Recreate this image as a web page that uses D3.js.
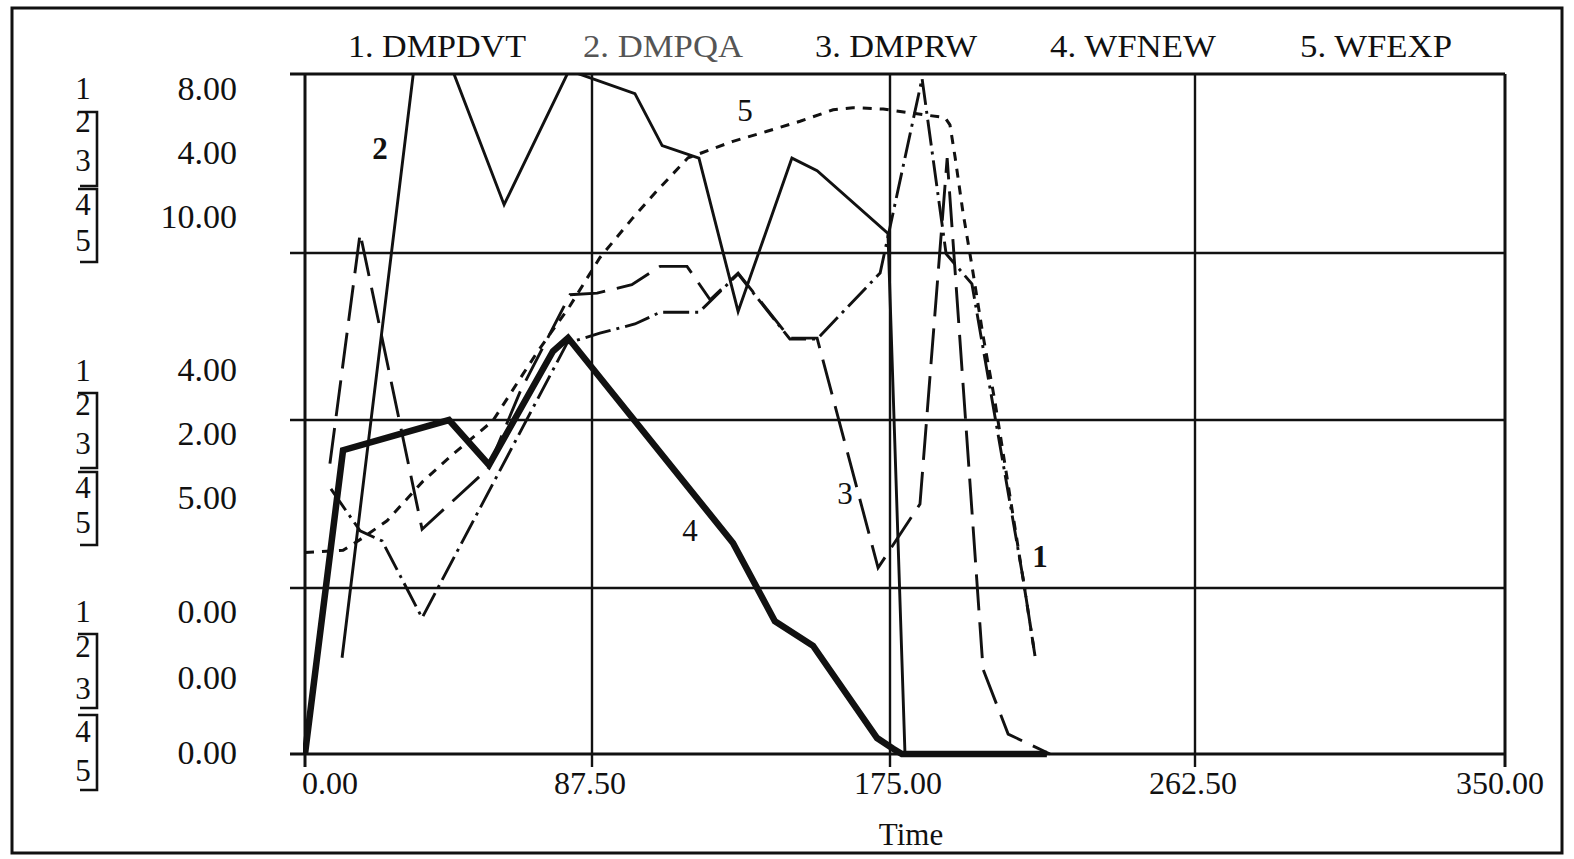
<!DOCTYPE html>
<html>
<head>
<meta charset="utf-8">
<script src="https://cdn.jsdelivr.net/npm/d3@7"></script>
<style>
  html, body { margin: 0; padding: 0; background: #fff; }
  svg { display: block; }
  text { font-family: "Liberation Serif", "DejaVu Serif", serif; fill: #111; }
</style>
</head>
<body>
<svg id="chart" width="1574" height="859"></svg>
<script>
// ---------------- data ----------------
const seriesNames = ["DMPDVT", "DMPQA", "DMPRW", "WFNEW", "WFEXP"];
const seriesMax   = [8, 4, 4, 10, 10];
const timeTicks   = [0, 87.5, 175, 262.5, 350];
const timeTickLabels = ["0.00", "87.50", "175.00", "262.50", "350.00"];

const s1Time = [7.9, 16.8, 23.5, 35.7, 79.9, 89.8, 100.1, 107.5, 118.9, 130.4, 145.6, 153.6, 172.1, 184.2, 191.1, 198.5, 213.2, 216.6];
const s1Vals = [3.18, 2.68, 2.56, 1.64, 4.92, 5.04, 5.15, 5.29, 5.29, 5.75, 4.97, 4.97, 5.76, 7.95, 5.99, 5.63, 2.11, 1.18];

const s2Time = [11.3, 36.0, 60.7, 80.5, 100.1, 108.1, 118.9, 130.4, 146.2, 153.6, 174.4, 179.3, 220];
const s2Vals = [0.58, 4.45, 3.27, 4.02, 3.89, 3.60, 3.53, 2.65, 3.53, 3.46, 3.11, 0, 0];

const s3Time = [7.6, 16.8, 35.7, 55.8, 65.6, 80.8, 89.0, 99.2, 107.5, 115.4, 122.2, 130.4, 145.6, 153.6, 171.5, 183.6, 191.4, 201.7, 208.9, 220.9];
const s3Vals = [1.74, 3.11, 1.35, 1.71, 2.17, 2.75, 2.76, 2.81, 2.92, 2.92, 2.72, 2.88, 2.49, 2.49, 1.12, 1.50, 3.53, 0.51, 0.12, 0];

const s4Time = [0, 11.6, 43.9, 56.1, 75.6, 80.2, 128.9, 141.2, 152.4, 171.2, 175.9, 178.4, 220];
const s4Vals = [0, 4.55, 5.0, 4.33, 6.03, 6.23, 3.17, 2.0, 1.63, 0.24, 0.08, 0, 0];

const s5Time = [0, 11.6, 17.4, 25, 36, 45.1, 57.3, 66.5, 71, 80.8, 89.8, 99.5, 106.6, 115.7, 119.8, 128.9, 138.9, 148.6, 158.3, 164.1, 173.0, 190.8, 192.2, 193.7, 195.9, 198.5, 201.7, 205.1, 213.2, 216.6];
const s5Vals = [3.03, 3.06, 3.24, 3.5, 4.09, 4.49, 4.99, 5.69, 6.03, 6.71, 7.43, 7.99, 8.37, 8.83, 8.9, 9.06, 9.2, 9.34, 9.5, 9.53, 9.51, 9.39, 9.29, 8.83, 8.08, 7.31, 6.26, 5.28, 2.63, 1.48];

// on-line number labels (time, value on that series' scale)
const markSeries = [2, 5, 3, 4, 1];
const markTime   = [22.9, 132.4, 161.8, 116.3, 218];
const markVals   = [3.58, 9.48, 1.56, 3.35, 2.37];

// ---------------- layout ----------------
const svg = d3.select("#chart");
const W = 1574, H = 859;
svg.append("rect").attr("width", W).attr("height", H).attr("fill", "#fff");

// scanned page frame
svg.append("rect").attr("x", 12).attr("y", 8).attr("width", 1550).attr("height", 845)
  .attr("fill", "none").attr("stroke", "#111").attr("stroke-width", 3);

const x = d3.scaleLinear().domain(timeTicks).range([305, 592, 890, 1195, 1505]);
const fracs = [0, 0.25, 0.5, 0.75, 1];
const yRange = [754, 588, 420, 253, 74];
const yScales = seriesMax.map(m => d3.scaleLinear().domain(fracs.map(f => f * m)).range(yRange));
const yUnit = d3.scaleLinear().domain(fracs).range(yRange);

const plotL = x(0), plotR = x(350), plotT = yUnit(1), plotB = yUnit(0);

// grid
const g = svg.append("g");
g.selectAll("line.h").data(fracs).join("line")
  .attr("x1", plotL - 15).attr("x2", plotR)
  .attr("y1", d => yUnit(d)).attr("y2", d => yUnit(d))
  .attr("stroke", "#111").attr("stroke-width", d => (d === 0 || d === 1) ? 3 : 2.4);
g.selectAll("line.v").data(timeTicks).join("line")
  .attr("x1", d => x(d)).attr("x2", d => x(d))
  .attr("y1", plotT).attr("y2", plotB + 13)
  .attr("stroke", "#111").attr("stroke-width", d => (d === 0 || d === 350) ? 3 : 2.4);

// x tick labels
svg.selectAll("text.xt").data(timeTicks).join("text")
  .attr("class", "xt")
  .attr("x", (d, i) => i === 0 ? x(d) - 3 : (i === 4 ? x(d) - 5 : x(d) + (i === 2 ? 8 : -2)))
  .attr("y", 794)
  .attr("text-anchor", (d, i) => i === 0 ? "start" : "middle")
  .attr("font-size", 32)
  .text((d, i) => timeTickLabels[i]);

svg.append("text").attr("x", 911).attr("y", 845).attr("text-anchor", "middle")
  .attr("font-size", 31).text("Time");

// legend
const legendX = [348, 583, 815, 1050, 1300];
const legendW = [178, 160, 162, 166, 152];
svg.selectAll("text.leg").data(seriesNames).join("text")
  .attr("class", "leg")
  .attr("x", (d, i) => legendX[i]).attr("y", 57)
  .attr("font-size", 32)
  .attr("textLength", (d, i) => legendW[i]).attr("lengthAdjust", "spacingAndGlyphs")
  .style("fill", (d, i) => i === 1 ? "#555" : "#111")
  .text((d, i) => (i + 1) + ". " + d);

// left value labels: three groups (top = max, middle = half, bottom = 0)
const groupFrac = [1, 0.5, 0];
const groupNumY = [[88, 121, 160, 204, 240], [370, 404, 443, 487, 522], [611, 646, 688, 731, 770]];
const groupValY = [[88, 152, 216], [369, 433, 497], [611, 677, 752]];
const groupBrk = [[[112, 186], [189, 262]], [[393, 468], [472, 545]], [[634, 708], [715, 790]]];
const valMax = [seriesMax[0], seriesMax[1], seriesMax[3]];
const fmt = d3.format(".2f");

groupFrac.forEach((gf, gi) => {
  const gg = svg.append("g");
  gg.selectAll("text.num").data([1, 2, 3, 4, 5]).join("text")
    .attr("x", 83).attr("y", (d, i) => groupNumY[gi][i] + 11)
    .attr("text-anchor", "middle").attr("font-size", 31).text(d => d);
  gg.selectAll("text.val").data(valMax).join("text")
    .attr("x", 237).attr("y", (d, i) => groupValY[gi][i] + 12)
    .attr("text-anchor", "end").attr("font-size", 34)
    .text(d => fmt(d * gf));
  gg.selectAll("path.brk").data(groupBrk[gi]).join("path")
    .attr("d", d => `M78,${d[0]}H97V${d[1]}H80`)
    .attr("fill", "none").attr("stroke", "#111").attr("stroke-width", 2.6);
});

// series lines
svg.append("clipPath").attr("id", "plotClip").append("rect")
  .attr("x", plotL - 2).attr("y", plotT - 1).attr("width", plotR - plotL + 4).attr("height", plotB - plotT + 6);

const seriesData = [
  s1Time.map((t, i) => ({ t, v: s1Vals[i] })),
  s2Time.map((t, i) => ({ t, v: s2Vals[i] })),
  s3Time.map((t, i) => ({ t, v: s3Vals[i] })),
  s4Time.map((t, i) => ({ t, v: s4Vals[i] })),
  s5Time.map((t, i) => ({ t, v: s5Vals[i] }))
];
const dashes = ["26,6,3,6", null, "36,12", null, "9,8"];
const widths = [2.9, 2.9, 2.9, 6.5, 3];

const lg = svg.append("g").attr("clip-path", "url(#plotClip)");
seriesData.forEach((data, si) => {
  const line = d3.line().x(d => x(d.t)).y(d => yScales[si](d.v));
  lg.append("path").datum(data)
    .attr("d", line)
    .attr("fill", "none").attr("stroke", "#111")
    .attr("stroke-width", widths[si])
    .attr("stroke-linejoin", "miter")
    .attr("stroke-dasharray", dashes[si]);
});

// on-line number labels
svg.selectAll("text.mark").data(markSeries).join("text")
  .attr("x", (d, i) => x(markTime[i]))
  .attr("y", (d, i) => yScales[d - 1](markVals[i]) + 10)
  .attr("text-anchor", "middle").attr("font-size", 31)
  .attr("font-weight", d => (d === 1 || d === 2) ? "bold" : "normal")
  .text(d => d);
</script>
</body>
</html>
